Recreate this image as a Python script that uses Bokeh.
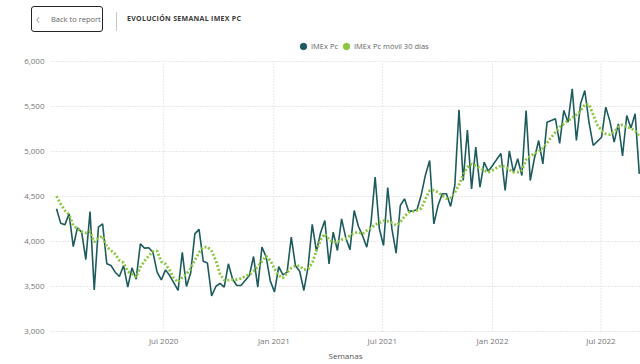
import pandas as pd
from bokeh.plotting import figure
from bokeh.models import (Range1d, FixedTicker, NumeralTickFormatter, DatetimeTickFormatter,
                          Legend, LegendItem, Div)
from bokeh.layouts import column
from bokeh.embed import file_html
from bokeh.resources import INLINE

# ---------------- data ----------------
start_week = "2020-01-04"
imex = [
    4363, 4204, 4185, 4307, 3944, 4152, 4104, 3800, 4333, 3463,
    4159, 4196, 3752, 3733, 3659, 3611, 3733, 3493, 3707, 3581,
    3974, 3926, 3930, 3881, 3659, 3574, 3685, 3622, 3540, 3456,
    3880, 3500, 3650, 4085, 4135, 3780, 3760, 3395, 3500, 3535,
    3493, 3752, 3580, 3511, 3511, 3567, 3622, 3833, 3493, 3937,
    3830, 3560, 3440, 3720, 3630, 3660, 4048, 3730, 3670, 3456,
    3715, 4190, 3890, 4100, 4233, 3752, 4104, 3900, 4252, 4040,
    3910, 4344, 4170, 4065, 3937, 4200, 4715, 4141, 3956, 4600,
    4140, 3870, 4400, 4474, 4335, 4340, 4355, 4520, 4740, 4900,
    4196, 4400, 4530, 4530, 4390, 4622, 5463, 4678, 5237, 4585,
    5048, 4604, 4881, 4780, 4845, 4913, 4978, 4567, 5008, 4770,
    4919, 4733, 5456, 4678, 4928, 5122, 4863, 5326, 5344, 5363,
    5090, 5456, 5326, 5696, 5122, 5530, 5678, 5325, 5067, 5113,
    5159, 5493, 5335, 5104, 5307, 4950, 5400, 5260, 5419, 4752,
]
imex_ma = [
    4504, 4418, 4344, 4300, 4180, 4140, 4110, 4095, 4110, 3995,
    4040, 4060, 3940, 3900, 3860, 3790, 3765, 3665, 3640, 3605,
    3715, 3785, 3840, 3890, 3895, 3775, 3750, 3680, 3590, 3550,
    3600, 3640, 3700, 3790, 3880, 3935, 3940, 3895, 3790, 3640,
    3570, 3570, 3575, 3575, 3590, 3615, 3630, 3670, 3720, 3780,
    3838, 3790, 3696, 3622, 3595, 3650, 3705, 3730, 3728, 3687,
    3696, 3760, 3900, 4020, 4085, 4020, 3993, 3993, 4020, 4030,
    4065, 4095, 4104, 4085, 4122, 4150, 4187, 4210, 4230, 4225,
    4210, 4180, 4215, 4280, 4324, 4335, 4346, 4368, 4474, 4566,
    4570, 4548, 4511, 4478, 4484, 4543, 4630, 4740, 4825, 4860,
    4840, 4818, 4790, 4770, 4792, 4820, 4844, 4830, 4800, 4770,
    4770, 4790, 4910, 4950, 4975, 5000, 5035, 5095, 5159, 5215,
    5270, 5307, 5344, 5372, 5410, 5450, 5520, 5525, 5410, 5295,
    5233, 5196, 5187, 5218, 5275, 5298, 5274, 5258, 5230, 5170,
]
tick_dates = ["2020-07-01", "2021-01-01", "2021-07-01", "2022-01-01", "2022-07-01"]
tick_labels = ["Jul 2020", "Jan 2021", "Jul 2021", "Jan 2022", "Jul 2022"]
y_ticks = [3000, 3500, 4000, 4500, 5000, 5500, 6000]
series_names = ["IMEx Pc", "IMEx Pc móvil 30 días"]
title_text = "EVOLUCIÓN SEMANAL IMEX PC"

weeks = pd.date_range(start_week, periods=len(imex), freq="7D")

TEAL = "#1e5b5d"
GREEN = "#8cc63f"
GRID = "#d2d2d2"
FONT = "Open Sans"

# ---------------- header ----------------
header_html = f"""
<div style="position:relative;width:640px;height:38px;font-family:'{FONT}',sans-serif;">
  <div style="position:absolute;left:31px;top:6px;width:70px;height:24px;border:1.5px solid #252423;
              border-radius:3px;box-sizing:content-box;">
    <span style="position:absolute;left:4px;top:1px;font-size:15px;color:#888;font-weight:300;">&#x2039;</span>
    <span style="position:absolute;left:19px;top:7px;font-size:7.5px;color:#666;white-space:nowrap;">Back to report</span>
  </div>
  <div style="position:absolute;left:116px;top:12px;width:1px;height:19px;background:#c8c6c4;"></div>
  <div style="position:absolute;left:127px;top:14px;font-size:7px;font-weight:bold;color:#3b3a39;
              letter-spacing:0.3px;white-space:nowrap;">{title_text}</div>
</div>
"""
header = Div(text=header_html, width=640, height=38, margin=0)

# ---------------- chart ----------------
# the frame starts at the figure top so the legend (inside the frame) is not clipped;
# the 6,000 gridline sits 23 px below the frame top.
p = figure(width=640, height=326, x_axis_type="datetime",
           x_range=Range1d(pd.Timestamp("2019-12-25"), pd.Timestamp("2022-09-05")),
           y_range=Range1d(2989, 6255.6),
           output_backend="svg", toolbar_location=None,
           min_border_left=50, min_border_right=0, min_border_top=0, min_border_bottom=32)
p.outline_line_color = None
p.background_fill_color = "white"

tick_ms = [int(pd.Timestamp(d).value // 10**6) for d in tick_dates]
tick_ts = [pd.Timestamp(d) for d in tick_dates]

# vertical dotted gridlines only between the lowest and highest y tick
p.xgrid.grid_line_color = None
p.segment(x0=tick_ts, y0=[min(y_ticks)] * len(tick_ts), x1=tick_ts, y1=[max(y_ticks)] * len(tick_ts),
          line_color=GRID, line_dash="1 2", line_width=1)

line1 = p.line(weeks, imex, line_color=TEAL, line_width=1.6)
line2 = p.line(weeks, imex_ma, line_color=GREEN, line_width=2.8, line_dash="2 2")

# legend markers (one NaN point each, so nothing is drawn in the plot)
dot1 = p.scatter([weeks[0]], [float("nan")], marker="circle", size=7, fill_color=TEAL, line_color=TEAL)
dot2 = p.scatter([weeks[0]], [float("nan")], marker="circle", size=7, fill_color=GREEN, line_color=GREEN)

# axes
p.yaxis.ticker = FixedTicker(ticks=y_ticks)
p.yaxis.formatter = NumeralTickFormatter(format="0,0")
p.xaxis.ticker = FixedTicker(ticks=tick_ms)
p.xaxis.formatter = DatetimeTickFormatter(days="%b %Y", months="%b %Y", years="%b %Y")
p.xaxis.major_label_overrides = {t: l for t, l in zip(tick_ms, tick_labels)}
p.xaxis.axis_label = "Semanas"
for ax in (p.xaxis, p.yaxis):
    ax.axis_line_color = None
    ax.major_tick_line_color = None
    ax.minor_tick_line_color = None
    ax.major_tick_out = 0
    ax.major_tick_in = 0
    ax.minor_tick_out = 0
    ax.minor_tick_in = 0
    ax.major_label_text_font = FONT
    ax.major_label_text_font_size = "8px"
    ax.major_label_text_color = "#777777"
p.yaxis.major_label_standoff = 6
p.xaxis.major_label_standoff = 2
p.xaxis.axis_label_text_font = FONT
p.xaxis.axis_label_text_font_size = "8px"
p.xaxis.axis_label_text_font_style = "normal"
p.xaxis.axis_label_text_color = "#555555"
p.xaxis.axis_label_standoff = 1

p.ygrid.grid_line_color = GRID
p.ygrid.grid_line_dash = "1 2"
p.ygrid.grid_line_width = 1

# legend (location = bottom-left corner, frame px)
legend = Legend(items=[LegendItem(label=series_names[0], renderers=[dot1]),
                       LegendItem(label=series_names[1], renderers=[dot2])],
                orientation="horizontal", location=(245, 278),
                glyph_width=16, glyph_height=16, label_standoff=0, spacing=0,
                padding=0, margin=0, border_line_color=None, background_fill_alpha=0,
                label_text_font=FONT, label_text_font_size="7.5px",
                label_text_color="#666666", label_height=8)
p.add_layout(legend, "center")

layout = column(header, p, spacing=0)
open("out.html", "w").write(file_html(layout, INLINE))
